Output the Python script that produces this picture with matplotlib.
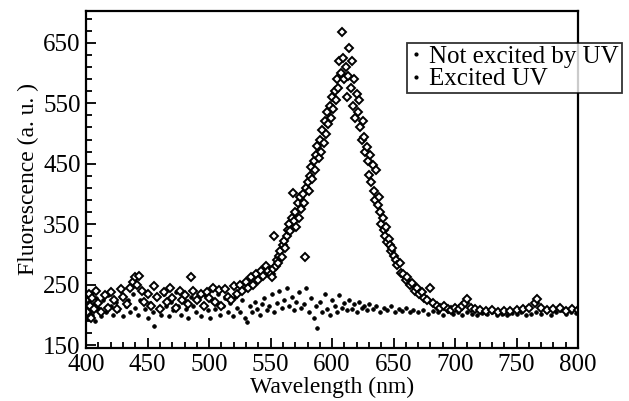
import matplotlib
matplotlib.use("Agg")
import matplotlib.pyplot as plt
from matplotlib.lines import Line2D
from matplotlib.ticker import FixedLocator

plt.rcParams['font.family'] = ['Liberation Serif', 'DejaVu Serif']

# Excited by UV (open markers)
exc_x = [400, 401, 402, 403, 404, 405, 406, 408, 410, 412, 415, 418, 420, 423, 425, 428, 430, 433,
         436, 438, 440, 441, 443, 445, 447, 450, 453, 455, 458, 460, 463, 466, 468, 470, 473, 476,
         478, 480, 483, 485, 487, 490, 493, 496, 498, 500, 503, 505, 508, 510, 513, 515, 518, 520,
         523, 525, 527, 530, 532, 534, 536, 538, 540, 542, 544, 546, 548,
         550, 551, 552, 553, 554, 555, 556, 557, 558, 559, 560, 561, 562, 563, 564, 565, 566, 567,
         568, 569, 570, 571, 572, 573, 574, 575, 576, 577, 578, 579, 580, 581, 582, 583, 584, 585,
         586, 587, 588, 589, 590, 591, 592, 593, 594, 595, 596, 597, 598, 599, 600, 601, 602, 603,
         604, 605, 606, 607, 608, 609, 610, 611, 612, 613, 614, 615, 616, 617, 618, 619, 620, 621,
         622, 623, 624, 625, 626, 627, 628, 629, 630, 631, 632, 633, 634, 635, 636, 637, 638, 639,
         640, 641, 642, 643, 644, 645, 646, 647, 648, 649, 650, 652, 653, 655, 656, 658, 660, 661,
         663, 665, 667, 669, 671, 673, 675, 677, 680, 682, 685, 688, 691, 694, 697, 700, 703, 706,
         708, 710, 713, 716, 720, 725, 730, 735, 740, 745, 750, 755, 760, 765, 767, 770, 775, 780,
         785, 790, 795, 800]
exc_y = [225, 205, 235, 215, 195, 228, 210, 240, 220, 205, 232, 212, 238, 225, 210, 242, 230, 218,
         245, 255, 262, 250, 265, 240, 222, 235, 215, 248, 230, 210, 238, 222, 245, 228, 212, 240,
         225, 232, 218, 262, 240, 225, 235, 215, 238, 228, 245, 222, 241, 215, 242, 230, 225, 248,
         235, 250, 240, 255, 245, 262, 250, 268, 258, 272, 265, 280, 272,
         268, 262, 275, 330, 280, 290, 285, 298, 305, 295, 315, 322, 310, 330, 340, 350, 338, 360,
         402, 355, 370, 345, 385, 360, 395, 375, 400, 385, 296, 410, 420, 405, 430, 445, 425, 455,
         440, 465, 480, 460, 490, 470, 505, 485, 520, 500, 535, 515, 545, 525, 560, 540, 570, 555,
         590, 575, 620, 600, 668, 625, 590, 610, 560, 595, 642, 575, 620, 545, 590, 525, 565, 535,
         555, 510, 490, 520, 495, 470, 478, 455, 432, 465, 420, 448, 405, 390, 440, 382, 395, 370,
         350, 360, 340, 330, 345, 320, 325, 315, 305, 310, 298, 290, 282, 285, 270, 268, 258, 262,
         250, 252, 240, 245, 235, 238, 228, 225, 244, 220, 215, 212, 214, 210, 208, 212, 210, 215,
         220, 226, 212, 210, 208, 206, 208, 205, 207, 206, 208, 210, 212, 220, 226, 212, 208, 210,
         212, 206, 210, 208]

# Not excited by UV (small dots)
nex_x = [400, 401, 402, 403, 404, 405, 406, 407, 408, 410, 412, 414, 416, 418, 420, 422, 424, 426,
         428, 430, 432, 434, 436, 438, 440, 442, 444, 446, 448, 450, 452, 454, 455, 457, 459, 461,
         463, 465, 467, 469, 471, 473, 475, 477, 479, 481, 483, 485, 487, 489, 491, 493, 495, 497,
         499, 501, 503, 505, 507, 509, 511, 513, 515, 517, 519, 521, 523, 525, 527, 529, 531, 533,
         535, 537, 539, 541, 543, 545, 547, 549, 551, 553, 555, 557, 559, 561, 563, 565, 567, 569,
         571, 573, 575, 577, 579, 581, 583, 585, 587, 588, 590, 592, 594, 596, 598, 600, 602, 604,
         606, 608, 610, 612, 614, 616, 618, 620, 622, 624, 626, 628, 630, 633, 636, 639, 642, 645,
         648, 651, 654, 657, 660, 663, 666, 670, 674, 678, 682, 686, 690, 694, 698, 702, 706, 710,
         714, 718, 722, 726, 730, 734, 738, 742, 746, 750, 754, 758, 762, 766, 770, 774, 778, 782,
         786, 790, 794, 798]
nex_y = [210, 195, 225, 205, 235, 200, 218, 190, 228, 212, 198, 225, 205, 232, 215, 200, 222, 208,
         230, 198, 215, 225, 205, 235, 212, 200, 225, 240, 210, 195, 220, 205, 182, 228, 212, 200,
         235, 215, 198, 222, 208, 238, 215, 200, 225, 210, 195, 230, 215, 205, 225, 198, 218, 232,
         208, 195, 222, 210, 235, 200, 215, 228, 205, 220, 198, 230, 212, 205, 225, 195, 188, 215,
         205, 222, 210, 200, 218, 228, 208, 215, 235, 205, 220, 240, 212, 225, 245, 215, 230, 208,
         222, 238, 212, 218, 245, 205, 228, 195, 215, 178, 222, 205, 235, 210, 200, 225, 215, 205,
         232, 212, 220, 208, 225, 210, 218, 205, 222, 212, 215, 208, 218, 210, 215, 205, 212, 208,
         215, 205, 210, 206, 212, 205, 208, 204, 208, 202, 206, 204, 200, 206, 202, 204, 200, 205,
         202, 200, 203, 201, 204, 200, 202, 200, 203, 201, 204, 200, 202, 205, 201, 206, 200, 204,
         208, 202, 205, 203]

x_ticks = [400, 450, 500, 550, 600, 650, 700, 750, 800]
y_ticks = [150, 250, 350, 450, 550, 650]
legend_labels = ["Not excited by UV", "Excited UV"]

fig = plt.figure(figsize=(6.29, 4.01), dpi=100)
ax = fig.add_axes([0.137, 0.132, 0.782, 0.841])

ax.plot(nex_x, nex_y, linestyle='none', marker='o', markersize=2.6,
        color='black', markeredgewidth=0.6)
ax.plot(exc_x, exc_y, linestyle='none', marker='D', markersize=3.6,
        markerfacecolor='white', markeredgecolor='black', markeredgewidth=1.4)

ax.set_xlim(400, 800)
ax.set_ylim(145, 703)
ax.xaxis.set_major_locator(FixedLocator(x_ticks))
ax.yaxis.set_major_locator(FixedLocator(y_ticks))
ax.xaxis.set_minor_locator(FixedLocator(list(range(400, 801, 10))))
ax.yaxis.set_minor_locator(FixedLocator(list(range(150, 700, 20))))
ax.tick_params(which='both', direction='in', top=False, right=False, labelsize=18,
               width=1.3)
ax.tick_params(axis='x', which='both', pad=4)
ax.tick_params(axis='y', which='both', pad=4)
ax.tick_params(which='major', length=7)
ax.tick_params(which='minor', length=4)
for s in ax.spines.values():
    s.set_linewidth(1.6)

ax.set_xlabel("Wavelength (nm)", fontsize=17, labelpad=1)
ax.set_ylabel("Fluorescence (a. u. )", fontsize=17, labelpad=3)

handles = [Line2D([], [], linestyle='none', marker='o', markersize=2.0, color='black'),
           Line2D([], [], linestyle='none', marker='o', markersize=2.0, color='black')]
leg = fig.legend(handles, legend_labels, loc='upper left',
                 bbox_to_anchor=(0.647, 0.893), fontsize=18, frameon=True,
                 fancybox=False, handlelength=0.5, handletextpad=0.3,
                 borderpad=0.1, labelspacing=0.0, borderaxespad=0)
leg.get_frame().set_edgecolor('black')
leg.get_frame().set_linewidth(1.3)

fig.savefig("out.png", dpi=100)
